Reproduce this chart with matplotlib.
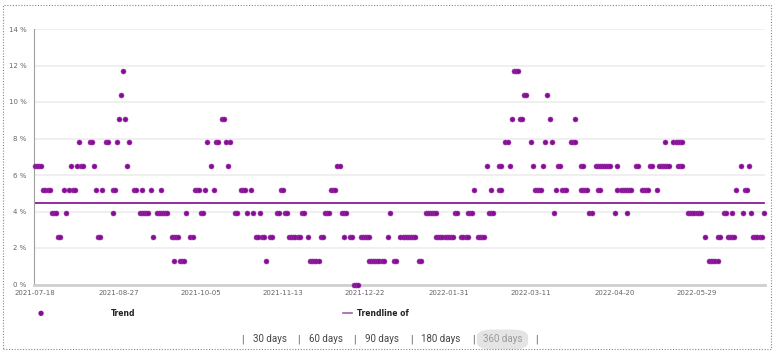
import numpy as np
import matplotlib
matplotlib.use("Agg")
import matplotlib.pyplot as plt
from matplotlib.patches import Rectangle, FancyBboxPatch

# daily readings, grouped by the rate level they sit on (day offsets from start)
start_date = np.datetime64("2021-07-18")
last_day = 347
rate_step = 100 / 77  # every value is a multiple of 1/77

days_at_0 = [152, 153, 154]
days_at_1 = [66, 69, 70, 71, 110, 131, 132, 133, 134, 135, 159, 160, 161, 162, 163,
             164, 165, 166, 171, 172, 183, 184, 321, 322, 323, 324, 325]
days_at_2 = [11, 12, 30, 31, 56, 65, 66, 67, 68, 74, 75, 105, 106, 108, 109, 112, 113,
             121, 122, 123, 124, 125, 126, 130, 136, 137, 147, 150, 151, 155, 156, 157,
             158, 159, 168, 174, 175, 176, 177, 178, 179, 180, 181, 191, 192, 193, 194,
             195, 196, 197, 198, 199, 203, 204, 205, 206, 211, 212, 213, 214, 319, 325,
             326, 330, 331, 332, 333, 342, 343, 344, 345, 346]
days_at_3 = [8, 9, 10, 15, 37, 50, 51, 52, 53, 54, 58, 59, 60, 61, 62, 63, 72, 79, 80,
             95, 96, 101, 104, 107, 115, 116, 119, 120, 127, 128, 138, 139, 140, 146, 147,
             148, 169, 186, 187, 188, 189, 190, 191, 200, 201, 206, 207, 208, 216, 217,
             218, 247, 264, 265, 276, 282, 311, 312, 313, 314, 315, 316, 317, 328, 329,
             332, 337, 341, 347]
days_at_4 = [4, 5, 6, 7, 14, 16, 18, 19, 29, 32, 37, 38, 47, 48, 51, 55, 60, 76, 77, 78,
             81, 85, 98, 99, 100, 103, 117, 118, 141, 142, 143, 209, 217, 221, 222, 238,
             239, 240, 241, 248, 251, 252, 253, 260, 261, 262, 263, 268, 269, 277, 279,
             280, 281, 282, 283, 284, 289, 290, 291, 292, 296, 334, 338, 339]
days_at_5 = [0, 1, 2, 3, 17, 20, 22, 23, 28, 44, 84, 92, 144, 145, 215, 221, 222, 226,
             237, 242, 249, 250, 260, 261, 267, 268, 269, 270, 271, 272, 273, 274, 277,
             286, 287, 293, 294, 297, 298, 299, 300, 301, 302, 306, 307, 308, 336, 340]
days_at_6 = [21, 26, 27, 34, 35, 39, 45, 82, 86, 87, 91, 93, 224, 225, 236, 243, 246,
             255, 256, 257, 300, 304, 305, 306, 307, 308]
days_at_7 = [40, 43, 89, 90, 227, 231, 232, 245, 257]
days_at_8 = [41, 233, 234, 244]
days_at_9 = [42, 228, 229, 230]

trend_values = [4.49, 4.49]

x_tick_labels = ["2021-07-18", "2021-08-27", "2021-10-05", "2021-11-13", "2021-12-22",
                 "2022-01-31", "2022-03-11", "2022-04-20", "2022-05-29"]
y_ticks = [0, 2, 4, 6, 8, 10, 12, 14]
range_buttons = ["30 days", "60 days", "90 days", "180 days", "360 days"]

groups = [days_at_0, days_at_1, days_at_2, days_at_3, days_at_4,
          days_at_5, days_at_6, days_at_7, days_at_8, days_at_9]
day_list, rate_list = [], []
for k, days in enumerate(groups):
    day_list += days
    rate_list += [k * rate_step] * len(days)
dates = start_date + np.array(day_list).astype("timedelta64[D]")
rates = np.array(rate_list)

W, H = 777, 354
fig = plt.figure(figsize=(W / 100, H / 100), dpi=100)
fig.patch.set_facecolor("white")


def fx(x):
    return x / W


def fy(y):
    return 1 - y / H


ax = fig.add_axes([fx(33.5), fy(284.5), fx(765) - fx(33.5), fy(29) - fy(284.5)])

purple = "#860c95"
ax.scatter(dates, rates, s=13, color=purple, edgecolors="#9a35a8", linewidths=0.4,
           zorder=3, clip_on=False)
end_date = start_date + np.timedelta64(last_day, "D")
ax.plot([start_date, end_date], trend_values, color="#8a1c99", lw=1.3, zorder=2)

ax.set_xlim(start_date - np.timedelta64(17, "h"), end_date + np.timedelta64(14, "h"))
ax.set_ylim(0, 14)
ax.set_yticks(y_ticks)
ax.set_yticklabels([f"{v} %" for v in y_ticks])
tick_dates = [np.datetime64(s) for s in x_tick_labels]
ax.set_xticks(tick_dates)
ax.set_xticklabels(x_tick_labels)

ax.grid(axis="y", color="#ececec", lw=1.2, zorder=0)
ax.grid(axis="x", visible=False)
for side in ["top", "right"]:
    ax.spines[side].set_visible(False)
ax.spines["left"].set_color("#a0a0a0")
ax.spines["left"].set_linewidth(0.8)
ax.spines["bottom"].set_color("#cfcfcf")
ax.spines["bottom"].set_linewidth(2)
ax.tick_params(axis="both", length=0, labelsize=5, colors="#666666")
ax.tick_params(axis="y", pad=5)
ax.tick_params(axis="x", pad=4)

# legend row
fig.text(fx(41), fy(313), "\u25CF", color=purple, fontsize=5, ha="center", va="center")
fig.text(fx(123), fy(313), "Trend", fontsize=5.5, fontweight="bold", color="#222222",
         ha="center", va="center")
fig.add_artist(plt.Line2D([fx(343), fx(352)], [fy(313), fy(313)], color="#a55bb3", lw=1.2))
fig.text(fx(357), fy(313), "Trendline of", fontsize=5.5, fontweight="bold", color="#222222",
         ha="left", va="center")

# range buttons
btn_x = [270, 326, 382, 441, 503]
sep_x = [242, 298, 354, 411, 473, 536]
pill = FancyBboxPatch((fx(480), fy(348)), fx(525) - fx(480), fy(331) - fy(348),
                      boxstyle="round,pad=0.004,rounding_size=0.02",
                      transform=fig.transFigure, fc="#e4e4e4", ec="none")
fig.add_artist(pill)
for x in sep_x:
    fig.text(fx(x), fy(339), "|", fontsize=7, color="#555555", ha="center", va="center",
             family="Roboto")
for x, lab in zip(btn_x, range_buttons):
    col = "#9a9a9a" if lab == "360 days" else "#444444"
    fig.text(fx(x), fy(339), lab, fontsize=7, color=col, ha="center", va="center",
             family="Roboto")

# dotted frame around the widget
fig.add_artist(Rectangle((fx(3), fy(349)), fx(771) - fx(3), fy(5) - fy(349),
                         transform=fig.transFigure, fill=False, ec="#888888",
                         lw=0.8, ls=(0, (1, 1.5))))

fig.savefig("out.png", dpi=100)
